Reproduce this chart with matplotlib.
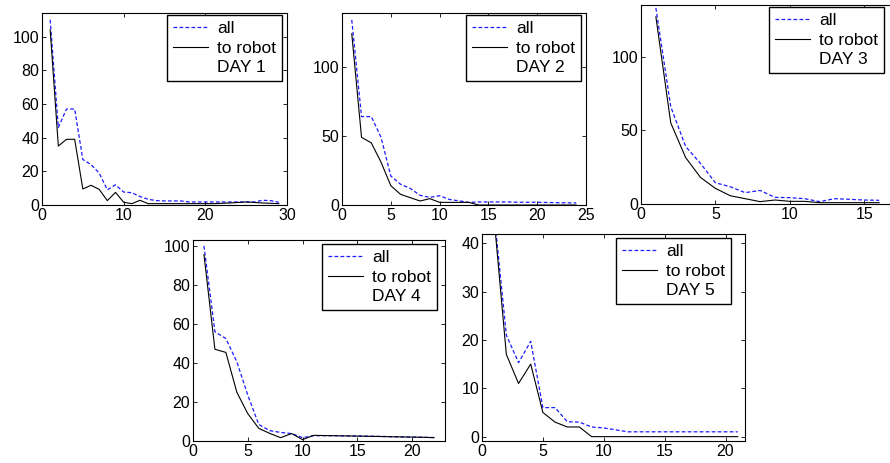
import matplotlib
matplotlib.use("Agg")
import matplotlib.pyplot as plt
from matplotlib.lines import Line2D

plt.rcParams['font.family'] = ['Liberation Sans', 'DejaVu Sans']
plt.rcParams['font.size'] = 11.5

# --- data (x = 1..n for each day) ---
day1_all = [110, 46, 57, 57, 27, 24, 19, 9, 12, 7.7, 7.3, 5, 3.4, 2.6, 2.4, 2.4, 2.4,
            1.8, 1.8, 1.8, 1.8, 1.8, 1.8, 1.8, 1.8, 1.8, 2.8, 2.6, 1.6]
day1_robot = [104, 35, 39, 39, 9.5, 11.7, 9.3, 2.6, 7.5, 1.6, 0.8, 2.8, 0.8, 0.8, 0.8,
              0.8, 0.8, 0.8, 0.8, 0.8, 0.8, 1, 1.2, 1.5, 1.8, 1.5, 1.2, 1, 0.8]

day2_all = [134, 64, 64, 49, 21, 15, 12, 7, 5.5, 6.7, 4, 3, 1.9, 2.2, 2.2, 2.2, 2.2,
            2, 2, 2, 1.8, 1.7, 1.6, 1.5]
day2_robot = [124, 49, 45, 31, 14, 7.7, 5.3, 2.9, 4.6, 1.9, 1.9, 1.9, 1.9, 0, 0, 0,
              0, 0, 0, 0, 0, 0, 0, 0]

day3_all = [133, 66, 39, 27.5, 14.4, 11.7, 7.7, 9.2, 4.5, 4.3, 3.6, 1.6, 3.6, 3.2, 2.7, 2.5]
day3_robot = [127, 55, 31.5, 18, 10.6, 5.6, 3.6, 1.6, 2.7, 1.8, 1.8, 0.9, 0.9, 0.9, 0.9, 0.9]

day4_all = [100, 56, 52.5, 40.6, 23.5, 8.5, 5.3, 4.4, 3.8, 1.7, 2.7, 2.7, 2.7, 2.6, 2.6,
            2.5, 2.4, 2.2, 2.1, 2, 1.9, 1.8]
day4_robot = [95.5, 47, 45.4, 25, 14, 6.5, 3.9, 1.7, 3.8, 0.7, 2.9, 2.8, 2.7, 2.6, 2.5,
              2.4, 2.3, 2.2, 2.1, 2, 1.9, 1.7]

day5_all = [46, 21, 15.3, 19.7, 6, 6, 3.1, 3, 2, 1.8, 1.4, 1, 1, 1, 1, 1, 1, 1, 1, 1, 1]
day5_robot = [45, 17, 11, 15, 5, 3, 2, 2, 0, 0, 0, 0, 0, 0, 0, 0, 0, 0, 0, 0, 0]

panels = [
    ("DAY 1", day1_all, day1_robot),
    ("DAY 2", day2_all, day2_robot),
    ("DAY 3", day3_all, day3_robot),
    ("DAY 4", day4_all, day4_robot),
    ("DAY 5", day5_all, day5_robot),
]

# layout in pixels (left, top, right, bottom), limits, ticks
W, H = 890, 463
boxes = [(42, 13, 287, 205), (342, 13, 586, 205), (641, 5, 894, 204),
         (193, 240, 445, 441), (482, 234, 745, 441)]
xlims = [(0, 30), (0, 25), (0, 17), (0, 23), (0, 21.6)]
ylims = [(0, 114), (0, 139), (0, 135), (0, 103), (-0.9, 41.9)]
xticks = [[0, 10, 20, 30], [0, 5, 10, 15, 20, 25], [0, 5, 10, 15],
          [0, 5, 10, 15, 20], [0, 5, 10, 15, 20]]
yticks = [[0, 20, 40, 60, 80, 100], [0, 50, 100], [0, 50, 100],
          [0, 20, 40, 60, 80, 100], [0, 10, 20, 30, 40]]
# legend box upper-left corner (pixels)
legs = [(167, 15), (466, 15), (769, 7), (322, 244), (616, 238)]

fig = plt.figure(figsize=(W / 100, H / 100), dpi=100)

for i, (day, y_all, y_rob) in enumerate(panels):
    l, t, r, b = boxes[i]
    ax = fig.add_axes([l / W, 1 - b / H, (r - l) / W, (b - t) / H])
    x = list(range(1, len(y_all) + 1))
    ax.plot(x, y_all, color='#1a1aff', linestyle=(0, (3, 1.8)), linewidth=0.9)
    ax.plot(x, y_rob, color='black', linestyle='-', linewidth=0.8)
    ax.set_xlim(*xlims[i])
    ax.set_ylim(*ylims[i])
    ax.set_xticks(xticks[i])
    ax.set_yticks(yticks[i])
    ax.tick_params(direction='in', length=3, width=0.6, top=True, right=True, pad=2)
    for s in ax.spines.values():
        s.set_linewidth(0.8)

    handles = [Line2D([], [], color='#1a1aff', linestyle=(0, (3, 1.8)), linewidth=0.9),
               Line2D([], [], color='black', linewidth=0.8),
               Line2D([], [], linestyle='none')]
    lx, ly = legs[i]
    leg = ax.legend(handles, ['all', 'to robot', day], loc='upper left',
                    bbox_to_anchor=(lx / W, 1 - ly / H), bbox_transform=fig.transFigure,
                    borderaxespad=0, fancybox=False, framealpha=1, edgecolor='black',
                    fontsize=12.5, handlelength=2.0, handletextpad=0.55,
                    labelspacing=0.25, borderpad=0.35)
    leg.get_frame().set_linewidth(1.0)

fig.savefig("out.png", dpi=100)
